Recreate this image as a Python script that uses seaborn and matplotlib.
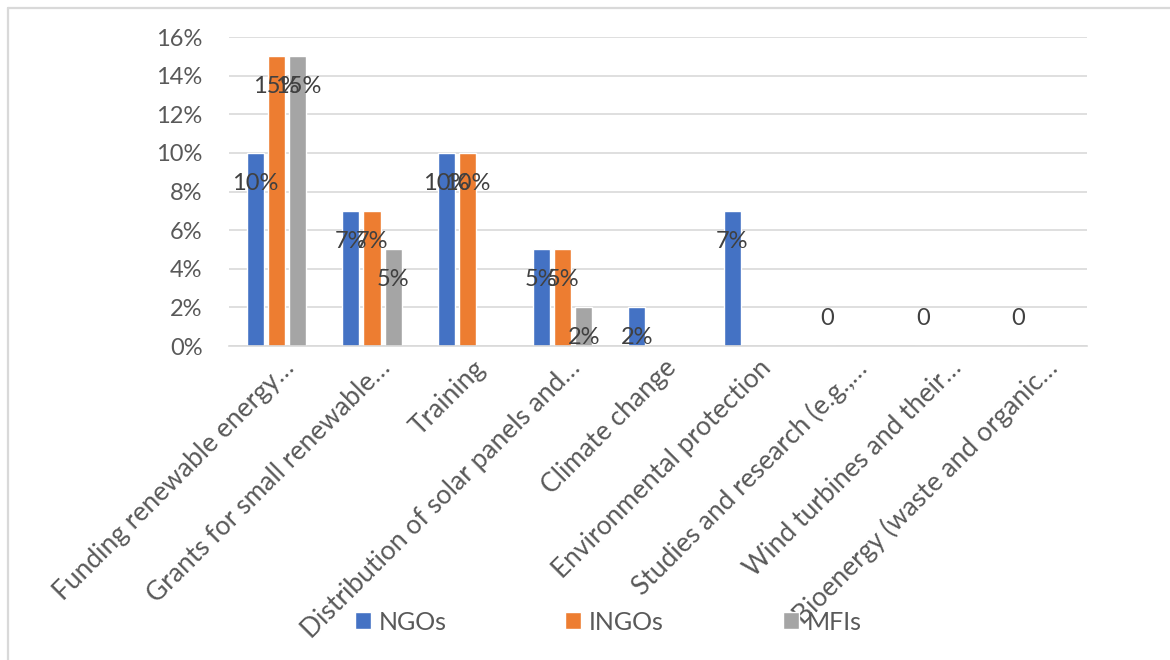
import numpy as np
import pandas as pd
import matplotlib
matplotlib.use("Agg")
import matplotlib.pyplot as plt
from matplotlib.patches import Patch
from matplotlib.lines import Line2D
from matplotlib.transforms import ScaledTranslation
import seaborn as sns

categories = [
    "Funding renewable energy…",
    "Grants for small renewable…",
    "Training",
    "Distribution of solar panels and…",
    "Climate change",
    "Environmental protection",
    "Studies and research (e.g.,…",
    "Wind turbines and their…",
    "Bioenergy (waste and organic…",
]
series = ["NGOs", "INGOs", "MFIs"]
ngos = [10, 7, 10, 5, 2, 7, 0, 0, 0]
ingos = [15, 7, 10, 5, np.nan, np.nan, np.nan, np.nan, np.nan]
mfis = [15, 5, np.nan, 2, np.nan, np.nan, np.nan, np.nan, np.nan]
colors = ["#4472C4", "#ED7D31", "#A5A5A5"]

df = pd.DataFrame({
    "category": categories * 3,
    "group": [s for s in series for _ in categories],
    "value": ngos + ingos + mfis,
})

sns.set_style("white")
plt.rcParams["font.family"] = ["Lato", "DejaVu Sans"]

fig = plt.figure(figsize=(11.7, 6.6), dpi=100)
ax = fig.add_axes([229 / 1170, 1 - 346 / 660, (1087 - 229) / 1170, (346 - 37) / 660])

sns.barplot(data=df, x="category", y="value", hue="group", order=categories,
            hue_order=series, palette=colors, width=0.67, gap=0.2,
            errorbar=None, saturation=1, ax=ax, legend=False)

ax.set_ylim(0, 16)
ax.set_yticks(range(0, 17, 2))
ax.set_yticklabels([f"{t}%" for t in range(0, 17, 2)])
ax.set_xlim(-0.5, len(categories) - 0.5)
ax.yaxis.grid(True, color="#D9D9D9", linewidth=1.2)
ax.set_axisbelow(True)
for s in ["top", "right", "left"]:
    ax.spines[s].set_visible(False)
ax.spines["bottom"].set_color("#D9D9D9")
ax.spines["bottom"].set_linewidth(1.2)
ax.tick_params(axis="both", length=0, colors="#595959")
ax.tick_params(axis="y", pad=19, labelsize=17)
ax.tick_params(axis="x", pad=13, labelsize=19)
ax.set_xlabel("")
ax.set_ylabel("")
shift = ScaledTranslation(14 / 100, 0, fig.dpi_scale_trans)
for lbl in ax.get_xticklabels():
    lbl.set_rotation(45)
    lbl.set_ha("right")
    lbl.set_va("center")
    lbl.set_rotation_mode("anchor")
    lbl.set_transform(lbl.get_transform() + shift)

# data labels, Excel style (inside end)
for cont in ax.containers:
    for bar in cont:
        h = bar.get_height()
        if np.isnan(h):
            continue
        xc = bar.get_x() + bar.get_width() / 2
        if h == 0:
            ax.annotate("0", (xc, h), xytext=(0, 20), textcoords="offset points",
                        ha="center", va="center", fontsize=17, color="#404040")
        else:
            ax.annotate(f"{h:.0f}%", (xc, h), xytext=(0, -22), textcoords="offset points",
                        ha="center", va="center", fontsize=17, color="#404040")

# legend entries
leg_x = [355 / 1170, 565 / 1170, 783 / 1170]
for name, c, lx in zip(series, colors, leg_x):
    fig.legend(handles=[Patch(facecolor=c, label=name)], loc="center left",
               bbox_to_anchor=(lx, 1 - 622 / 660), frameon=False, fontsize=18,
               handlelength=0.64, handleheight=0.64, handletextpad=0.3,
               borderpad=0, borderaxespad=0, labelcolor="#595959")

# chart border (top and left visible)
fig.add_artist(Line2D([7.5 / 1170, 7.5 / 1170], [0, 1 - 7.5 / 660],
                      transform=fig.transFigure, color="#D9D9D9", linewidth=1.6))
fig.add_artist(Line2D([7.5 / 1170, 1], [1 - 7.5 / 660, 1 - 7.5 / 660],
                      transform=fig.transFigure, color="#D9D9D9", linewidth=1.6))

fig.savefig("out.png", dpi=100)
